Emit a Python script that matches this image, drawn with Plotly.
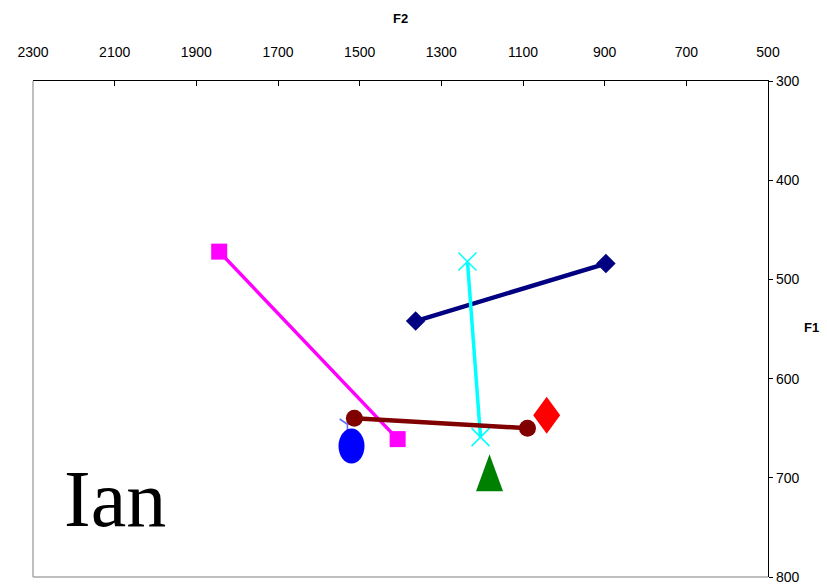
import plotly.graph_objects as go

# Data (F2, F1)
navy_f2 = [1363, 897]
navy_f1 = [542, 484]
magenta_f2 = [1844, 1407]
magenta_f1 = [472, 661]
cyan_f2 = [1236, 1204]
cyan_f1 = [482, 659]
maroon_f2 = [1513, 1089]
maroon_f1 = [640, 650]
purple_f2 = [1530]
purple_f1 = [646]
red_f2 = [1042]
red_f1 = [637]
green_f2 = [1182]
green_f1 = [695]
blue_f2 = [1520]
blue_f1 = [668]

x_ticks = [2300, 2100, 1900, 1700, 1500, 1300, 1100, 900, 700, 500]
y_ticks = [300, 400, 500, 600, 700, 800]

fig = go.Figure()

fig.add_trace(go.Scatter(x=purple_f2, y=purple_f1, mode="markers",
                         marker=dict(symbol="y-down-open", size=13,
                                     line=dict(color="#660066", width=1.6))))
fig.add_trace(go.Scatter(x=navy_f2, y=navy_f1, mode="lines+markers",
                         line=dict(color="#000080", width=4.5),
                         marker=dict(symbol="diamond", size=15, color="#000080")))
fig.add_trace(go.Scatter(x=magenta_f2, y=magenta_f1, mode="lines+markers",
                         line=dict(color="#FF00FF", width=3.5),
                         marker=dict(symbol="square", size=16, color="#FF00FF")))
fig.add_trace(go.Scatter(x=cyan_f2, y=cyan_f1, mode="lines+markers",
                         line=dict(color="#00FFFF", width=3.5),
                         marker=dict(symbol="x-thin-open", size=18,
                                     line=dict(color="#00FFFF", width=1.5))))
fig.add_trace(go.Scatter(x=maroon_f2, y=maroon_f1, mode="lines+markers",
                         line=dict(color="#800000", width=4.5),
                         marker=dict(symbol="circle", size=17, color="#800000")))

# Large single markers, drawn as pixel-sized shapes anchored at their data points
fig.add_shape(type="path", xref="x", yref="y", xsizemode="pixel", ysizemode="pixel",
              xanchor=red_f2[0], yanchor=red_f1[0],
              path="M 0 18.5 L 13.5 0 L 0 -18.5 L -13.5 0 Z",
              fillcolor="#FF0000", line=dict(color="#FF0000", width=0))
fig.add_shape(type="path", xref="x", yref="y", xsizemode="pixel", ysizemode="pixel",
              xanchor=green_f2[0], yanchor=green_f1[0],
              path="M 0 18.5 L 13.5 -18.5 L -13.5 -18.5 Z",
              fillcolor="#008000", line=dict(color="#008000", width=0))
fig.add_shape(type="circle", xref="x", yref="y", xsizemode="pixel", ysizemode="pixel",
              xanchor=blue_f2[0], yanchor=blue_f1[0],
              x0=-13, x1=13, y0=-17.5, y1=17.5,
              fillcolor="#0000FF", line=dict(color="#0000FF", width=0))

# Left and bottom gray frame
fig.add_shape(type="line", xref="paper", yref="paper", x0=0, x1=0, y0=0, y1=1,
              line=dict(color="#A8A8A8", width=1.5))
fig.add_shape(type="line", xref="paper", yref="paper", x0=0, x1=1, y0=0, y1=0,
              line=dict(color="#A8A8A8", width=1.5))

sans = "Liberation Sans Narrow, Arial Narrow, Liberation Sans, Arial"
tick_font = dict(family=sans, size=14, color="black")

fig.update_layout(
    width=827, height=586,
    margin=dict(l=33, r=59, t=81, b=9),
    paper_bgcolor="white", plot_bgcolor="white",
    showlegend=False,
    xaxis=dict(side="top", range=[2300, 500], tickvals=x_ticks,
               showgrid=False, zeroline=False, automargin=False,
               showline=True, linecolor="black", linewidth=1.2,
               ticks="inside", ticklen=5, tickcolor="black",
               ticklabelstandoff=17,
               tickfont=tick_font),
    yaxis=dict(side="right", range=[800, 300], tickvals=y_ticks,
               showgrid=False, zeroline=False, automargin=False,
               showline=True, linecolor="black", linewidth=1.2,
               ticks="outside", ticklen=4, tickcolor="black",
               tickfont=tick_font),
    annotations=[
        dict(text="<b>F2</b>", xref="paper", yref="paper", x=(400 - 33) / 734.7,
             y=(577 - 18) / 496, xanchor="center", yanchor="middle", showarrow=False,
             font=dict(family=sans, size=13, color="black")),
        dict(text="<b>F1</b>", xref="paper", yref="paper", x=(811 - 33) / 734.7,
             y=(577 - 327) / 496, xanchor="center", yanchor="middle", showarrow=False,
             font=dict(family=sans, size=13, color="black")),
        dict(text="Ian", xref="paper", yref="paper", x=(115 - 33) / 734.7,
             y=(577 - 499) / 496, xanchor="center", yanchor="middle", showarrow=False,
             font=dict(family="Liberation Serif, Times New Roman, serif",
                       size=80, color="black")),
    ],
)

fig.write_html("out.html", config={"displayModeBar": False},
               post_script="document.body.style.margin='0';")
